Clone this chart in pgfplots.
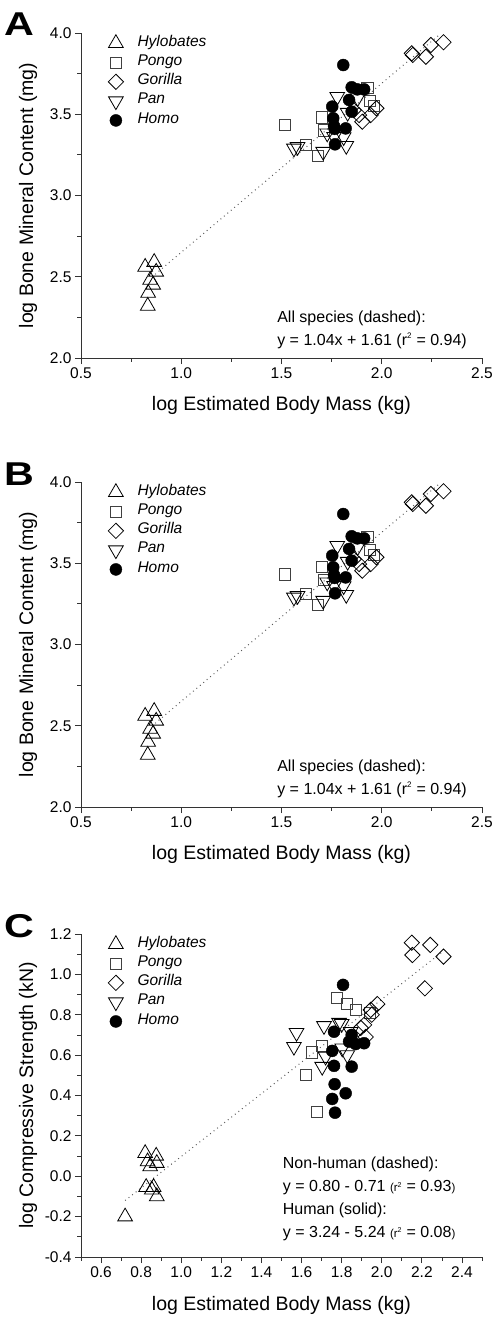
\documentclass[border=0pt]{standalone}
\usepackage{fontspec}
\setmainfont{Liberation Sans}
\usepackage{graphicx}
\usepackage{pgfplots}
\pgfplotsset{compat=1.18}
\pgfplotsset{
  panel/.style={
    scale only axis, width=401pt,
    xmin=0.5, xmax=2.5,
    axis x line*=bottom, axis y line*=left,
    axis line style={-, line width=0.8pt, black!80},
    tick align=outside,
    major tick length=6pt, minor tick length=3.5pt,
    every tick/.style={line width=0.8pt, black!80},
    ticklabel style={font=\fontsize{15.5}{16}\selectfont},
    xticklabel style={/pgf/number format/.cd, fixed, fixed zerofill, precision=1},
    yticklabel style={/pgf/number format/.cd, fixed, fixed zerofill, precision=1},
    /pgf/number format/assume math mode=true,
    label style={font=\fontsize{19.5}{20}\selectfont},
    xlabel={log Estimated Body Mass (kg)},
    clip=false,
    legend cell align=left,
    legend style={draw=none, fill=none, anchor=north west,
      font=\itshape\fontsize{15.5}{16}\selectfont,
      nodes={inner sep=0pt, text height=12.5pt, text depth=6.8pt},
      row sep=0pt,
      /tikz/every odd column/.append style={column sep=14pt}},
  },
  hyl/.style={only marks, mark=triangle, mark size=8.5pt, black, mark options={line width=0.8pt}},
  pon/.style={only marks, mark=square, mark size=5.6pt, black!75, mark options={line width=0.8pt}},
  gor/.style={only marks, mark=square, mark size=5.4pt, black, mark options={rotate=45, line width=0.8pt}},
  pan/.style={only marks, mark=triangle, mark size=8.5pt, black, mark options={rotate=180, line width=0.8pt}},
  hom/.style={only marks, mark=*, mark size=6pt, black},
  fitline/.style={black!65, line width=1pt, dash pattern=on 0.9pt off 3.6pt, mark=none},
}
\newcommand{\annfont}{\fontsize{16}{18}\selectfont}
\newcommand{\smallp}[1]{{\fontsize{11.5}{12}\selectfont #1}}

\newcommand{\panelAB}{%
    \addplot[hyl] coordinates {(0.82,2.56) (0.865,2.59) (0.875,2.53) (0.845,2.48) (0.86,2.45) (0.835,2.40) (0.833,2.32)};
    \addplot[pon] coordinates {(1.517,3.432) (1.70,3.48) (1.623,3.309) (1.68,3.245) (1.928,3.66) (1.94,3.58) (1.96,3.55) (1.71,3.40)};
    \addplot[gor] coordinates {(2.15,3.875) (2.155,3.865) (2.22,3.854) (2.245,3.926) (2.308,3.943) (1.973,3.537) (1.945,3.495) (1.903,3.454) (1.887,3.495) (1.86,3.525)};
    \addplot[pan] coordinates {(1.562,3.29) (1.58,3.30) (1.708,3.27) (1.778,3.608) (1.728,3.383) (1.762,3.362) (1.823,3.306) (1.81,3.36) (1.83,3.51) (1.88,3.60)};
    \addplot[hom] coordinates {(1.808,3.803) (1.85,3.666) (1.878,3.653) (1.912,3.653) (1.837,3.588) (1.753,3.547) (1.85,3.516) (1.758,3.475) (1.762,3.428) (1.82,3.413) (1.765,3.41) (1.767,3.315)};
    \legend{Hylobates, Pongo, Gorilla, Pan, Homo}
    \addplot[fitline, forget plot] coordinates {(0.87,2.515) (2.29,3.992)};
    \node[anchor=base west, font=\annfont, inner sep=0pt] at (axis description cs:0.489,0.1086) {All species (dashed):};
    \node[anchor=base west, font=\annfont, inner sep=0pt] at (axis description cs:0.489,0.04) {y = 1.04x + 1.61 (r\textsuperscript{\fontsize{8}{8}\selectfont 2} = 0.94)};
}

\begin{document}
\begin{tikzpicture}
\useasboundingbox (0,0) rectangle (498pt,-1321pt);

% Panel A
\begin{axis}[panel, at={(81pt,-358pt)}, anchor=south west, height=325pt,
  ymin=2, ymax=4, xtick={0.5,1.0,1.5,2.0,2.5}, ytick={2.0,2.5,3.0,3.5,4.0},
  minor x tick num=1, minor y tick num=1,
  ylabel={log Bone Mineral Content (mg)},
  ylabel style={at={(axis description cs:-0.132,0.5)}, anchor=center},
  xlabel style={at={(axis description cs:0.5,-0.147)}, anchor=center},
  legend style={at={(axis description cs:0.06,1.005)}}]
  \panelAB
\end{axis}

% Panel B
\begin{axis}[panel, at={(81pt,-807pt)}, anchor=south west, height=325pt,
  ymin=2, ymax=4, xtick={0.5,1.0,1.5,2.0,2.5}, ytick={2.0,2.5,3.0,3.5,4.0},
  minor x tick num=1, minor y tick num=1,
  ylabel={log Bone Mineral Content (mg)},
  ylabel style={at={(axis description cs:-0.132,0.5)}, anchor=center},
  xlabel style={at={(axis description cs:0.5,-0.147)}, anchor=center},
  legend style={at={(axis description cs:0.06,1.005)}}]
  \panelAB
\end{axis}

% Panel C
\begin{axis}[panel, at={(81pt,-1257pt)}, anchor=south west, height=323pt,
  ymin=-0.4, ymax=1.2,
  xtick={0.6,0.8,1.0,1.2,1.4,1.6,1.8,2.0,2.2,2.4},
  minor xtick={0.5,0.7,0.9,1.1,1.3,1.5,1.7,1.9,2.1,2.3,2.5},
  ytick={-0.4,-0.2,0,0.2,0.4,0.6,0.8,1.0,1.2},
  minor ytick={-0.3,-0.1,0.1,0.3,0.5,0.7,0.9,1.1},
  ylabel={log Compressive Strength (kN)},
  ylabel style={at={(axis description cs:-0.132,0.5)}, anchor=center},
  xlabel style={at={(axis description cs:0.5,-0.149)}, anchor=center},
  legend style={at={(axis description cs:0.06,1.005)}}]
  \addplot[hyl] coordinates {(0.72,-0.20) (0.82,0.114) (0.875,0.101) (0.832,0.073) (0.845,0.048) (0.878,0.065) (0.825,-0.054) (0.862,-0.054) (0.853,-0.067) (0.878,-0.10)};
  \addplot[pon] coordinates {(1.778,0.885) (1.828,0.852) (1.87,0.824) (1.94,0.81) (1.653,0.614) (1.70,0.647) (1.62,0.502) (1.678,0.32)};
  \addplot[gor] coordinates {(2.15,1.157) (2.153,1.096) (2.242,1.146) (2.308,1.088) (2.215,0.931) (1.978,0.853) (1.945,0.824) (1.912,0.75) (1.895,0.735) (1.92,0.69) (1.95,0.80)};
  \addplot[pan] coordinates {(1.575,0.711) (1.562,0.642) (1.712,0.745) (1.787,0.761) (1.80,0.755) (1.703,0.543) (1.72,0.593) (1.828,0.601) (1.803,0.634) (1.845,0.716)};
  \addplot[hom] coordinates {(1.807,0.948) (1.762,0.716) (1.85,0.70) (1.837,0.667) (1.87,0.655) (1.912,0.659) (1.753,0.621) (1.762,0.547) (1.85,0.543) (1.765,0.456) (1.82,0.411) (1.753,0.383) (1.767,0.315)};
  \legend{Hylobates, Pongo, Gorilla, Pan, Homo}
  \addplot[fitline, forget plot] coordinates {(0.72,-0.12) (2.30,1.11)};
  \node[anchor=base west, font=\annfont, inner sep=0pt] at (axis description cs:0.503,0.2755) {Non-human (dashed):};
  \node[anchor=base west, font=\annfont, inner sep=0pt] at (axis description cs:0.503,0.2028) {y = 0.80 - 0.71 \smallp{(r\textsuperscript{\fontsize{7}{7}\selectfont 2}} = 0.93\smallp{)}};
  \node[anchor=base west, font=\annfont, inner sep=0pt] at (axis description cs:0.503,0.1331) {Human (solid):};
  \node[anchor=base west, font=\annfont, inner sep=0pt] at (axis description cs:0.503,0.0619) {y = 3.24 - 5.24 \smallp{(r\textsuperscript{\fontsize{7}{7}\selectfont 2}} = 0.08\smallp{)}};
\end{axis}

% Panel letters
\node[anchor=base west, inner sep=0pt, font=\bfseries\fontsize{33}{33}\selectfont] at (4pt,-36pt) {\scalebox{1.25}[1]{A}};
\node[anchor=base west, inner sep=0pt, font=\bfseries\fontsize{33}{33}\selectfont] at (4pt,-485pt) {\scalebox{1.25}[1]{B}};
\node[anchor=base west, inner sep=0pt, font=\bfseries\fontsize{33}{33}\selectfont] at (4pt,-937pt) {\scalebox{1.25}[1]{C}};
\end{tikzpicture}
\end{document}
